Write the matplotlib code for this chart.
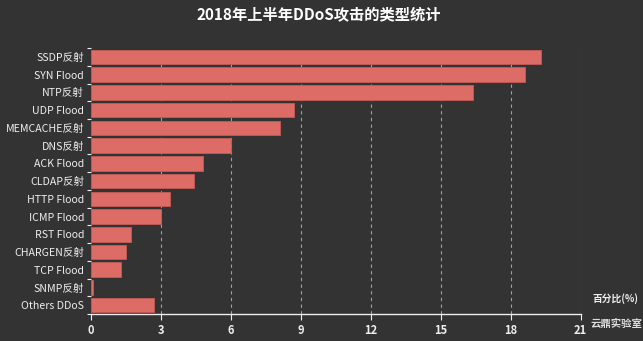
import matplotlib.pyplot as plt
import numpy as np

plt.rcParams['font.family'] = ['Noto Sans CJK SC', 'DejaVu Sans']

# data (percent)
types = ['SSDP反射', 'SYN Flood', 'NTP反射', 'UDP Flood', 'MEMCACHE反射', 'DNS反射',
         'ACK Flood', 'CLDAP反射', 'HTTP Flood', 'ICMP Flood', 'RST Flood',
         'CHARGEN反射', 'TCP Flood', 'SNMP反射', 'Others DDoS']
percent = [19.3, 18.6, 16.4, 8.7, 8.1, 6.0, 4.8, 4.4, 3.4, 3.0, 1.7, 1.5, 1.3, 0.1, 2.7]
xticks = [0, 3, 6, 9, 12, 15, 18, 21]

bg = '#333333'
fg = '#eeeeee'

fig = plt.figure(figsize=(6.43, 3.41), dpi=100, facecolor=bg)
ax = fig.add_axes([0.1415, 0.079, 0.7613, 0.78], facecolor=bg)

y = np.arange(len(types))
ax.barh(y, percent, height=0.82, color='#dd6b66', edgecolor='#c45a56', linewidth=0.6, zorder=3)

ax.set_xlim(0, 21)
ax.set_ylim(len(types) - 0.5, -0.5)

# dashed vertical grid
for v in xticks[1:]:
    ax.axvline(v, color='#a0a0a0', linestyle=(0, (3, 3)), linewidth=0.8, zorder=1)

ax.set_xticks(xticks)
ax.set_xticklabels([str(t) for t in xticks], fontsize=8, color=fg, fontweight='bold')
ax.set_yticks(y)
ax.set_yticklabels(types, fontsize=7.6, color=fg)
ax.set_yticks(np.arange(-0.5, len(types), 1), minor=True)
ax.tick_params(axis='y', which='major', length=0, pad=5)
ax.tick_params(axis='y', which='minor', length=3, color=fg, width=0.8)
ax.tick_params(axis='x', length=4, color=fg, width=0.8, pad=3)

for s in ['top', 'right', 'left']:
    ax.spines[s].set_visible(False)
ax.spines['bottom'].set_color(fg)
ax.spines['bottom'].set_linewidth(1.0)

fig.text(0.495, 0.958, '2018年上半年DDoS攻击的类型统计', ha='center', va='center',
         fontsize=11, fontweight='bold', color='white')

# axis name and source
fig.text(0.922, 0.125, '百分比(%)', ha='left', va='center', fontsize=7, color=fg,
         fontweight='bold')
fig.text(0.918, 0.052, '云鼎实验室', ha='left', va='center', fontsize=7.5, color='#dddddd',
         fontweight='bold')

plt.savefig('out.png', dpi=100, facecolor=bg)
